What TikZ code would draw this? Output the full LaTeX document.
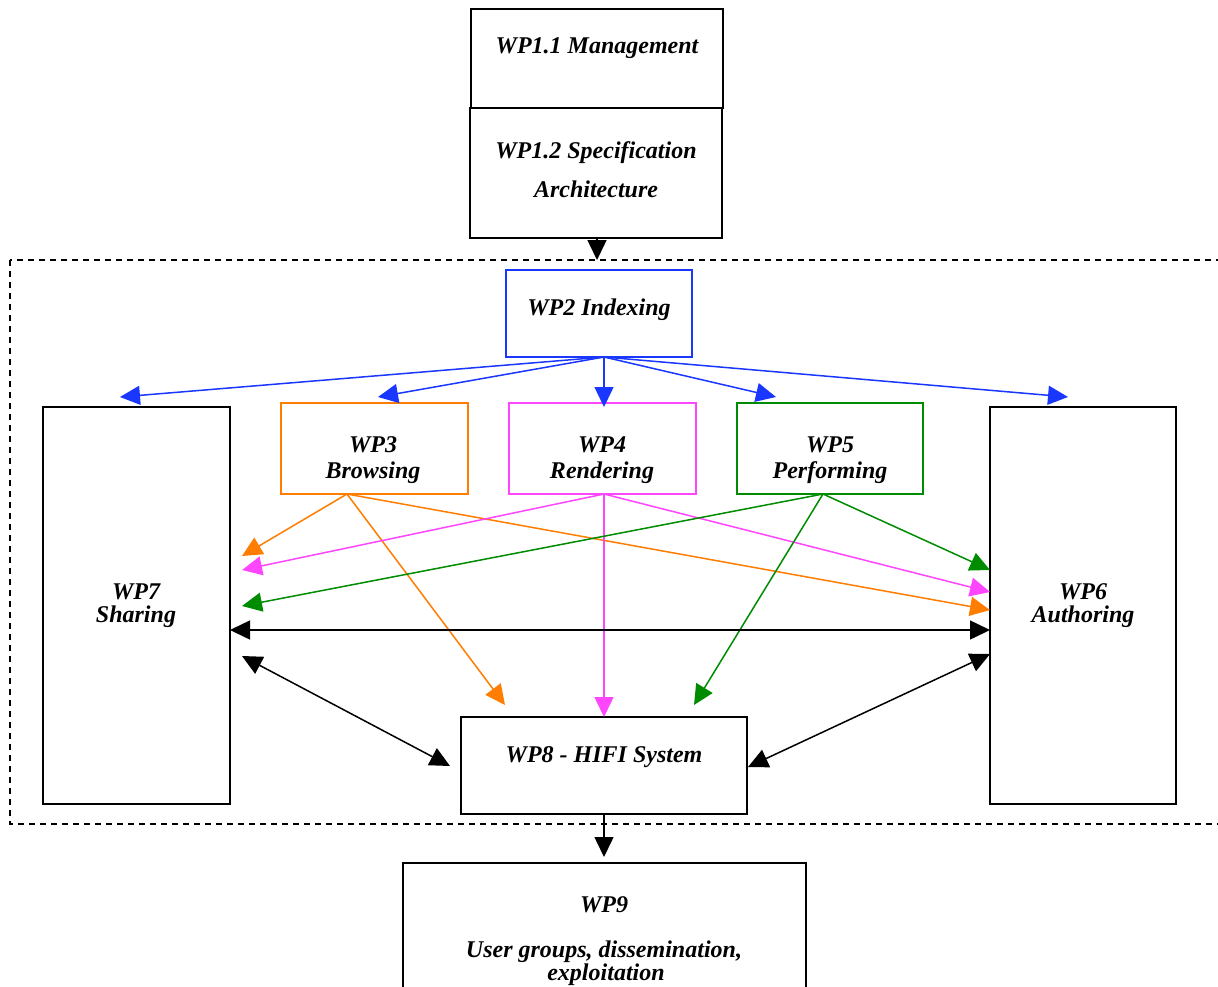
\documentclass[tikz,border=0pt]{standalone}
\usepackage{fontspec}
\setmainfont{Liberation Serif}
\usetikzlibrary{arrows.meta}
\definecolor{cblue}{RGB}{25,55,255}
\definecolor{corange}{RGB}{255,125,0}
\definecolor{cmag}{RGB}{255,70,255}
\definecolor{cgreen}{RGB}{0,140,0}
\tikzset{
  box/.style={draw, line width=1.5pt, inner sep=0pt, fill=none},
  txt/.style={font=\fontsize{24}{26}\selectfont\bfseries\itshape, inner sep=0pt, anchor=base},
  arr/.style={line width=1.5pt, -{Triangle[length=20pt,width=19pt]}},
  darr/.style={line width=1.5pt, {Triangle[length=20pt,width=19pt]}-{Triangle[length=20pt,width=19pt]}},
}
\begin{document}
\begin{tikzpicture}[x=1pt,y=-1pt]
\useasboundingbox (0,0) rectangle (1218,986);
\clip (0,0) rectangle (1218,986);
\fill[white] (0,0) rectangle (1218,986);
% dashed frame
\draw[line width=1.5pt, dash pattern=on 6pt off 5pt] (10,260) rectangle (1240,824);
% boxes
\node[box, minimum width=252pt, minimum height=99pt] (wp11) at (597,58.5) {};
\node[box, minimum width=252pt, minimum height=130pt] (wp12) at (596,173) {};
\node[box, draw=cblue, minimum width=186pt, minimum height=87pt] (wp2) at (599,313.5) {};
\node[box, minimum width=187pt, minimum height=397pt] (wp7) at (136.5,605.5) {};
\node[box, draw=corange, minimum width=187pt, minimum height=91pt] (wp3) at (374.5,448.5) {};
\node[box, draw=cmag, minimum width=187pt, minimum height=91pt] (wp4) at (602.5,448.5) {};
\node[box, draw=cgreen, minimum width=186pt, minimum height=91pt] (wp5) at (830,448.5) {};
\node[box, minimum width=186pt, minimum height=397pt] (wp6) at (1083,605.5) {};
\node[box, minimum width=286pt, minimum height=97pt] (wp8) at (604,765.5) {};
\node[box, minimum width=403pt, minimum height=140pt] (wp9) at (604.5,933) {};
% texts
\node[txt] (t11) at (597,53) {WP1.1 Management};
\node[txt] (t12a) at (596,158) {WP1.2 Specification};
\node[txt] (t12b) at (596,197) {Architecture};
\node[txt] (t2) at (599,315) {WP2 Indexing};
\node[txt] (t3a) at (373,452) {WP3};
\node[txt] (t3b) at (373,478) {Browsing};
\node[txt] (t4a) at (602,452) {WP4};
\node[txt] (t4b) at (602,478) {Rendering};
\node[txt] (t5a) at (830,452) {WP5};
\node[txt] (t5b) at (830,478) {Performing};
\node[txt] (t7a) at (136,599) {WP7};
\node[txt] (t7b) at (136,622) {Sharing};
\node[txt] (t6a) at (1083,599) {WP6};
\node[txt] (t6b) at (1083,622) {Authoring};
\node[txt] (t8) at (604,762) {WP8 - HIFI System};
\node[txt] (t9a) at (604,912) {WP9};
\node[txt] (t9b) at (604,957) {User groups, dissemination,};
\node[txt] (t9c) at (606,980) {exploitation};
% coordinates
\coordinate (s12) at (597,238);
\coordinate (e2) at (597,260);
\coordinate (s2) at (604,357);
\coordinate (b7) at (120,397);
\coordinate (b3) at (378,397);
\coordinate (b4) at (604,407);
\coordinate (b5) at (776,397);
\coordinate (b6) at (1068,397);
\coordinate (s3) at (347,494);
\coordinate (s4) at (604,494);
\coordinate (s5) at (823,494);
\coordinate (o7) at (242,556);
\coordinate (o8) at (505,705);
\coordinate (o6) at (990,610);
\coordinate (m7) at (242,570);
\coordinate (m8) at (604,717);
\coordinate (m6) at (990,592);
\coordinate (g7) at (242,606);
\coordinate (g8) at (694,705);
\coordinate (g6) at (990,570);
\coordinate (k7a) at (230,630);
\coordinate (k6a) at (990,630);
\coordinate (k7b) at (242,656);
\coordinate (k8a) at (450,766);
\coordinate (k6b) at (990,654);
\coordinate (k8b) at (748,767);
\coordinate (s8) at (604,814);
\coordinate (e9) at (604,857);
% arrows
\draw[arr] (s12) -- (e2);
\draw[arr, cblue] (s2) -- (b7);
\draw[arr, cblue] (s2) -- (b3);
\draw[arr, cblue] (s2) -- (b4);
\draw[arr, cblue] (s2) -- (b5);
\draw[arr, cblue] (s2) -- (b6);
\draw[arr, corange] (s3) -- (o7);
\draw[arr, corange] (s3) -- (o8);
\draw[arr, corange] (s3) -- (o6);
\draw[arr, cmag] (s4) -- (m7);
\draw[arr, cmag] (s4) -- (m8);
\draw[arr, cmag] (s4) -- (m6);
\draw[arr, cgreen] (s5) -- (g7);
\draw[arr, cgreen] (s5) -- (g8);
\draw[arr, cgreen] (s5) -- (g6);
\draw[darr] (k7a) -- (k6a);
\draw[darr] (k7b) -- (k8a);
\draw[darr] (k6b) -- (k8b);
\draw[arr] (s8) -- (e9);
\end{tikzpicture}
\end{document}
